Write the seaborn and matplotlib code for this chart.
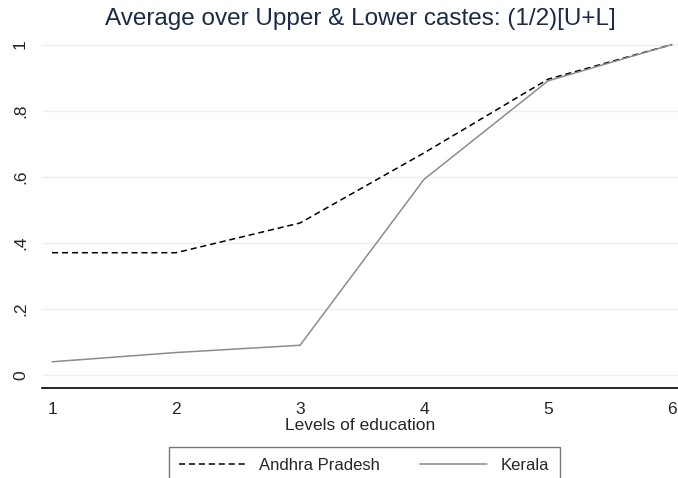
import seaborn as sns
import matplotlib.pyplot as plt
import pandas as pd

# niveis de educacao e medias
levels = [1, 2, 3, 4, 5, 6]
andhra = [0.37, 0.37, 0.46, 0.672, 0.895, 1.0]
kerala = [0.04, 0.068, 0.09, 0.592, 0.89, 1.0]
yticks = [0, 0.2, 0.4, 0.6, 0.8, 1.0]
ylabels = ['0', '.2', '.4', '.6', '.8', '1']

df = pd.DataFrame({'level': levels * 2,
                   'value': andhra + kerala,
                   'state': ['Andhra Pradesh'] * 6 + ['Kerala'] * 6})

sns.set_style('white')
plt.rcParams['font.family'] = ['Liberation Sans', 'DejaVu Sans']

fig = plt.figure(figsize=(6.78, 4.78), dpi=100)
ax = fig.add_axes([42 / 678, 90.3 / 478, 636 / 678, 349.8 / 478])

sns.lineplot(data=df[df.state == 'Andhra Pradesh'], x='level', y='value',
             color='black', linestyle=(0, (4, 2.5)), linewidth=1.1, ax=ax,
             label='Andhra Pradesh')
sns.lineplot(data=df[df.state == 'Kerala'], x='level', y='value',
             color='#8c8c8c', linewidth=1.1, ax=ax, label='Kerala')

ax.set_xlim(0.919, 6.048)
ax.set_ylim(-0.0384, 1.02)
ax.set_xticks(levels)
ax.set_yticks(yticks)
ax.set_yticklabels(ylabels, rotation=90, va='center')
ax.yaxis.grid(True, color='#e8f0f2', linewidth=1)
ax.tick_params(axis='x', length=5, color='#555555', labelsize=12.5, pad=5)
ax.tick_params(axis='y', length=5, color='#999999', labelsize=12.5, pad=5)
for s in ['top', 'right', 'left']:
    ax.spines[s].set_visible(False)
ax.spines['bottom'].set_color('black')
ax.spines['bottom'].set_linewidth(1.2)

ax.set_xlabel('Levels of education', fontsize=12.5, labelpad=1)
ax.set_ylabel('')
ax.set_title('Average over Upper & Lower castes: (1/2)[U+L]',
             fontsize=17.5, color='#1a2b4a', pad=9)

ax.get_legend().remove()
h, l = ax.get_legend_handles_labels()
fig.legend(h, l, loc='upper center', bbox_to_anchor=(0.537, 0.082), ncol=2,
           handlelength=4.0, fontsize=12, frameon=True, fancybox=False,
           edgecolor='#555555', columnspacing=2.4, borderpad=0.65)

fig.savefig('out.png', dpi=100)
